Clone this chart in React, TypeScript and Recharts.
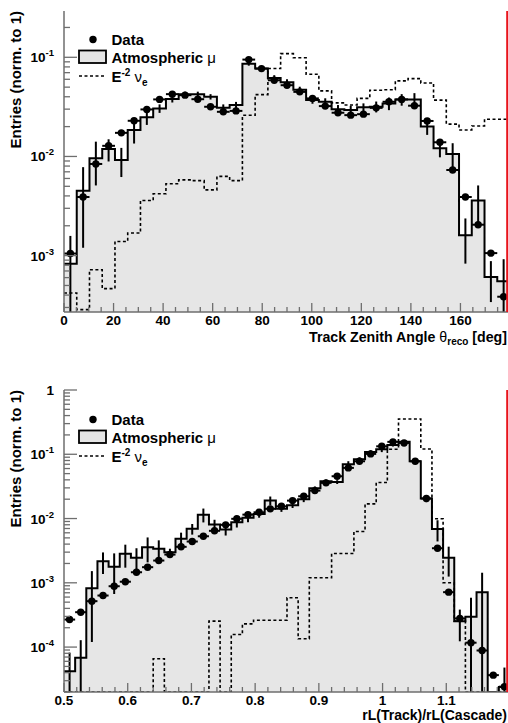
import React from 'react'
import { ComposedChart, Area, Line, Scatter, XAxis, YAxis, ErrorBar } from 'recharts'

// top panel: track zenith angle, 35 bins over 0..180 deg
const zenRange = [0, 180]
const zenYDomain = [2.7e-4, 0.293]
const zenLabels = [0, 20, 40, 60, 80, 100, 120, 140, 160]
const zenData = [
  1.05e-3, 3.9e-3, 8.4e-3, 0.0128, 0.0173, 0.0229, 0.0298, 0.0376, 0.0425, 0.0415,
  0.0378, 0.0317, 0.0282, 0.0288, 0.0948, 0.0769, 0.0587, 0.0523, 0.0448, 0.0385,
  0.0322, 0.0276, 0.0261, 0.0267, 0.0309, 0.0356, 0.0376, 0.0325, 0.0228, 0.0139,
  7.3e-3, 3.9e-3, 2.05e-3, 1.06e-3, 3.85e-4
]
const zenMu = [
  8.3e-4, 4.5e-3, 9.6e-3, 0.0119, 9.2e-3, 0.0185, 0.0248, 0.0305, 0.038, 0.0425,
  0.0425, 0.04, 0.031, 0.033, 0.0863, 0.077, 0.062, 0.056, 0.047, 0.037,
  0.0356, 0.03, 0.0294, 0.0313, 0.0318, 0.0343, 0.0375, 0.0375, 0.02, 0.0121,
  0.0106, 1.6e-3, 3.6e-3, 6.1e-4, 5.5e-4
]
const zenMuErr = [
  7.5e-4, 3.3e-3, 4.5e-3, 3e-3, 3e-3, 5e-3, 4e-3, 3e-3, 3e-3, 2.5e-3,
  2.5e-3, 2.5e-3, 2.5e-3, 2.5e-3, 4e-3, 4e-3, 4e-3, 4e-3, 3.5e-3, 3e-3,
  3e-3, 3e-3, 3e-3, 3e-3, 4e-3, 5e-3, 5e-3, 6e-3, 3.5e-3, 2.3e-3,
  3e-3, 7.7e-4, 1.5e-3, 2.7e-4, 3.7e-4
]
const zenNuE = [
  4.2e-4, 2.85e-4, 7.2e-4, 4.65e-4, 1.39e-3, 1.69e-3, 3.6e-3, 4.2e-3, 5.3e-3, 5.8e-3,
  5.7e-3, 4.6e-3, 6.3e-3, 5.7e-3, 0.026, 0.042, 0.077, 0.109, 0.099, 0.0674,
  0.0459, 0.0347, 0.033, 0.0385, 0.0466, 0.047, 0.0578, 0.061, 0.055, 0.037,
  0.0212, 0.0185, 0.0203, 0.0237, 0.0237
]

// bottom panel: rL(Track)/rL(Cascade), 40 bins over 0.5..1.2
const rlRange = [0.5, 1.2]
const rlYDomain = [2e-5, 1]
const rlLabels = [0.5, 0.6, 0.7, 0.8, 0.9, 1, 1.1]
const rlData = [
  2.68e-4, 3.49e-4, 5.18e-4, 6.34e-4, 8.85e-4, 1.04e-3, 1.46e-3, 1.75e-3, 2.22e-3, 2.75e-3,
  3.63e-3, 4.39e-3, 5.3e-3, 6.44e-3, 7.98e-3, 9.9e-3, 0.0115, 0.0125, 0.01416, 0.0155,
  0.019, 0.0222, 0.0272, 0.0359, 0.0455, 0.0614, 0.0778, 0.1014, 0.133, 0.156,
  0.15, 0.0778, 0.0205, 3.45e-3, 7.15e-4, 2.79e-4, 1.17e-4, 8.85e-5, 3.66e-5, 2.42e-5
]
const rlMu = [
  4.2e-5, 6.8e-5, 8.2e-4, 2.17e-3, 1.77e-3, 2.82e-3, 2.45e-3, 3.58e-3, 3.38e-3, 2.99e-3,
  4.83e-3, 6.92e-3, 0.0115, 8.07e-3, 6.74e-3, 8.75e-3, 0.01026, 0.0118, 0.019, 0.0142,
  0.0161, 0.02, 0.0296, 0.038, 0.037, 0.07, 0.0838, 0.108, 0.12, 0.14,
  0.157, 0.078, 0.0205, 6.9e-3, 2.45e-3, 2.53e-4, 2.96e-4, 7.15e-4, 0, 2.4e-5
]
const rlMuErr = [
  4e-5, 6e-5, 7e-4, 8e-4, 1.1e-3, 1.1e-3, 1e-3, 1.5e-3, 1.2e-3, 4e-4,
  1.2e-3, 1.3e-3, 2.8e-3, 1.5e-3, 1.3e-3, 1.5e-3, 1.5e-3, 1.5e-3, 3e-3, 1.5e-3,
  1.5e-3, 2e-3, 2e-3, 2.5e-3, 2.5e-3, 8e-3, 6e-3, 8e-3, 0.012, 8e-3,
  8e-3, 5e-3, 2.5e-3, 2.5e-3, 1.2e-3, 1.3e-4, 2.9e-4, 7.2e-4, 0, 2.4e-5
]
const rlNuE = [
  0, 0, 0, 0, 0, 0, 0, 0, 6.6e-5, 0,
  0, 0, 0, 2.53e-4, 0, 1.57e-4, 2.3e-4, 2.62e-4, 2.62e-4, 2.62e-4,
  5.84e-4, 1.35e-4, 1.2e-3, 1.2e-3, 2.86e-3, 2.86e-3, 6.3e-3, 0.0169, 0.0363, 0.12,
  0.354, 0.354, 0.121, 0.0099, 1e-3, 2.53e-4, 0, 0, 0, 0
]

const FONT = '"Liberation Sans", Arial, Helvetica, sans-serif'
const AXIS = '#6e6e6e'
const FILL = '#e6e6e6'

// histogram edges for the step series, bin centres for markers / error bars
function histo(range, mu, muErr, nu, data, floor) {
  const n = mu.length
  const w = (range[1] - range[0]) / n
  const at = (i) => range[0] + i * w
  const steps = mu.map((v, i) => ({ x: at(i), mu: Math.max(v, floor), nu: Math.max(nu[i], floor) }))
  steps.push({ x: range[1], mu: Math.max(mu[n - 1], floor), nu: Math.max(nu[n - 1], floor) })
  // lower error stops at the bottom of the log axis
  const muPts = mu
    .map((v, i) => ({ x: at(i + 0.5), y: v, err: [Math.max(0, Math.min(muErr[i], v - floor)), muErr[i]] }))
    .filter((p) => p.y > 0)
  const dataPts = data.map((v, i) => ({ x: at(i + 0.5), y: v, xe: w / 2 }))
  return { steps, muPts, dataPts }
}

function logTicks([lo, hi]) {
  const out = []
  for (let e = Math.floor(Math.log10(lo)); e <= Math.ceil(Math.log10(hi)); e++) {
    for (let m = 1; m <= 9; m++) {
      const v = m * Math.pow(10, e)
      if (v >= lo && v <= hi * 1.000001) out.push(v)
    }
  }
  return out
}

function linTicks([lo, hi], step) {
  const n = Math.round((hi - lo) / step)
  return Array.from({ length: n + 1 }, (_, i) => +(lo + i * step).toFixed(6))
}

const XTick = (props: any) => {
  const { x, y, payload, labels } = props
  const v = payload.value
  const major = labels.some((l) => Math.abs(l - v) < 1e-6)
  return (
    <g>
      <line x1={x} x2={x} y1={y} y2={y - (major ? 9 : 5)} stroke={AXIS} strokeWidth={1.3} />
      {major && (
        <text x={x} y={y + 12.5} textAnchor="middle" fontFamily={FONT} fontWeight="bold" fontSize={13.5} fill="#000">
          {String(v)}
        </text>
      )}
    </g>
  )
}

const YTick = (props: any) => {
  const { x, y, payload } = props
  const lg = Math.log10(payload.value)
  const e = Math.round(lg)
  const decade = Math.abs(lg - e) < 1e-6
  return (
    <g>
      <line x1={x} x2={x + (decade ? 13 : 6)} y1={y} y2={y} stroke={AXIS} strokeWidth={1.3} />
      {decade && (
        <text x={54} y={y + 5} textAnchor="end" fontFamily={FONT} fontWeight="bold" fontSize={13.5} fill="#000">
          {e === 0 ? (
            '1'
          ) : (
            <>
              <tspan>10</tspan>
              <tspan dy={-6} fontSize={9.5}>{String(e)}</tspan>
            </>
          )}
        </text>
      )}
    </g>
  )
}

const NoShape = () => <g />
const Marker = (p: any) => <circle cx={p.cx} cy={p.cy} r={3.7} fill="#000" />

function Panel({ range, yDomain, height, xHeight, labels, step, mu, muErr, nu, data }) {
  const { steps, muPts, dataPts } = histo(range, mu, muErr, nu, data, yDomain[0])
  return (
    <ComposedChart width={512} height={height} data={steps} margin={{ top: 11, right: 2, bottom: 0, left: 0 }}>
      <XAxis
        xAxisId="frame"
        orientation="top"
        type="number"
        domain={range}
        height={0}
        tick={false}
        tickLine={false}
        axisLine={{ stroke: '#9a9a9a', strokeWidth: 1.5 }}
      />
      <XAxis
        type="number"
        dataKey="x"
        domain={range}
        allowDataOverflow
        ticks={linTicks(range, step)}
        interval={0}
        tickSize={0}
        tickMargin={0}
        tickLine={false}
        height={xHeight}
        axisLine={{ stroke: AXIS, strokeWidth: 1.5 }}
        tick={<XTick labels={labels} />}
      />
      <YAxis
        type="number"
        scale="log"
        domain={yDomain}
        allowDataOverflow
        ticks={logTicks(yDomain)}
        interval={0}
        width={64}
        tickSize={0}
        tickMargin={0}
        tickLine={false}
        axisLine={{ stroke: AXIS, strokeWidth: 1.5 }}
        tick={<YTick />}
      />
      <Area
        type="stepAfter"
        dataKey="mu"
        baseValue="dataMin"
        fill={FILL}
        fillOpacity={1}
        stroke="#000"
        strokeWidth={2}
        dot={false}
        activeDot={false}
        isAnimationActive={false}
      />
      <Line
        type="stepAfter"
        dataKey="nu"
        stroke="#000"
        strokeWidth={1.6}
        strokeDasharray="3 2.5"
        dot={false}
        activeDot={false}
        isAnimationActive={false}
      />
      <Scatter data={muPts} dataKey="y" shape={<NoShape />} isAnimationActive={false}>
        <ErrorBar dataKey="err" direction="y" width={0} stroke="#000" strokeWidth={2} />
      </Scatter>
      <Scatter data={dataPts} dataKey="y" shape={<Marker />} isAnimationActive={false}>
        <ErrorBar dataKey="xe" direction="x" width={0} stroke="#000" strokeWidth={2} />
      </Scatter>
    </ComposedChart>
  )
}

const txt = { fontFamily: FONT, fontWeight: 'bold' as const, fill: '#000' }

function LegendBox({ dy }) {
  return (
    <g transform={`translate(0, ${dy})`}>
      <circle cx={93} cy={39.5} r={3.7} fill="#000" />
      <text x={111.5} y={45} fontSize={15} {...txt}>Data</text>
      <rect x={79} y={50.5} width={27} height={12.5} fill={FILL} stroke="#000" strokeWidth={1.8} />
      <text x={111.5} y={63.3} fontSize={15} {...txt}>
        Atmospheric <tspan fontWeight="normal">μ</tspan>
      </text>
      <line x1={79} x2={106} y1={76} y2={76} stroke="#000" strokeWidth={1.6} strokeDasharray="3 2.5" />
      <text x={111.5} y={81.5} fontSize={15} {...txt}>
        E<tspan dy={-6} fontSize={10}>-2</tspan>
        <tspan dy={6} fontWeight="normal"> ν</tspan>
        <tspan dy={4} fontSize={10}>e</tspan>
      </text>
    </g>
  )
}

export default function App() {
  return (
    <div style={{ position: 'absolute', left: 0, top: 0, width: 508, height: 723, overflow: 'hidden', background: '#fff' }}>
      <div style={{ position: 'absolute', left: 0, top: 0 }}>
        <Panel
          range={zenRange}
          yDomain={zenYDomain}
          height={362}
          xHeight={50}
          labels={zenLabels}
          step={5}
          mu={zenMu}
          muErr={zenMuErr}
          nu={zenNuE}
          data={zenData}
        />
      </div>
      <div style={{ position: 'absolute', left: 0, top: 379 }}>
        <Panel
          range={rlRange}
          yDomain={rlYDomain}
          height={344}
          xHeight={31}
          labels={rlLabels}
          step={0.02}
          mu={rlMu}
          muErr={rlMuErr}
          nu={rlNuE}
          data={rlData}
        />
      </div>
      <svg width={508} height={723} style={{ position: 'absolute', left: 0, top: 0, pointerEvents: 'none' }}>
        <LegendBox dy={0} />
        <LegendBox dy={380} />
        <text transform="translate(21, 11) rotate(-90)" textAnchor="end" fontSize={15} {...txt}>
          Entries (norm. to 1)
        </text>
        <text transform="translate(21, 390) rotate(-90)" textAnchor="end" fontSize={15} {...txt}>
          Entries (norm. to 1)
        </text>
        <text x={507} y={341.5} textAnchor="end" fontSize={14.2} {...txt}>
          Track Zenith Angle <tspan fontWeight="normal">θ</tspan>
          <tspan dy={3.5} fontSize={10}>reco</tspan>
          <tspan dy={-3.5}> [deg]</tspan>
        </text>
        <text x={507} y={720} textAnchor="end" fontSize={14} {...txt}>
          rL(Track)/rL(Cascade)
        </text>
        <rect x={506.2} y={11} width={1.8} height={301} fill="#e8141b" />
        <rect x={506.2} y={390} width={1.8} height={302} fill="#e8141b" />
      </svg>
    </div>
  )
}
